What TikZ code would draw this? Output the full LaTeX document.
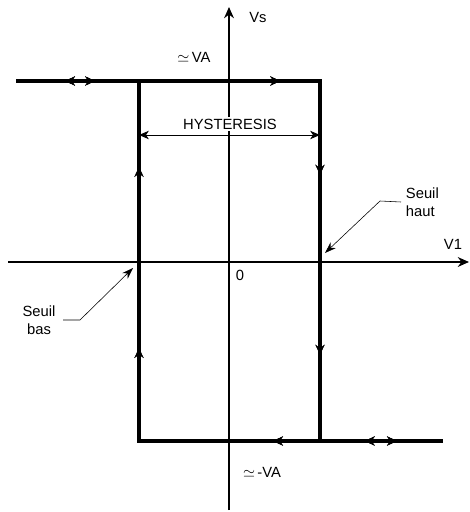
\documentclass[tikz,border=0pt]{standalone}
\usepackage{fontspec}
\setmainfont{Liberation Sans}
\usepackage{amssymb}
\usetikzlibrary{arrows.meta,decorations.markings}

\begin{document}
\begin{tikzpicture}[x=0.025cm,y=-0.025cm,
  every node/.style={font=\fontsize{10.5}{13}\selectfont},
  loop/.style={line width=2.2pt,line cap=rect},
  axis/.style={line width=1.1pt,-{Stealth[length=8pt,width=7pt]}},
  lead/.style={line width=0.4pt,-{Stealth[length=8pt,width=5.5pt]}},
  dim/.style={line width=0.7pt,{Stealth[length=7pt,width=6pt,inset=2pt]}-{Stealth[length=7pt,width=6pt,inset=2pt]}},
  fwd/.style={postaction={decorate},decoration={markings,mark=at position #1 with {\arrow{Stealth[length=7pt,width=6.5pt,inset=2.5pt]}}}},
  bwd/.style={postaction={decorate},decoration={markings,mark=at position #1 with {\arrowreversed{Stealth[length=7pt,width=6.5pt,inset=2.5pt]}}}}]
\useasboundingbox (0,0) rectangle (469,512);

% axes
\coordinate (xa) at (8,262);
\coordinate (xb) at (469,262);
\coordinate (ya) at (229,510);
\coordinate (yb) at (229,7);
\draw[axis] (xa) -- (xb);
\draw[axis] (ya) -- (yb);

% loop corners
\coordinate (tl) at (18,81);
\coordinate (ul) at (139,81);
\coordinate (ur) at (320,81);
\coordinate (ll) at (139,441);
\coordinate (lr) at (320,441);
\coordinate (br) at (441,441);

\draw[loop,bwd=0.156,fwd=0.255,fwd=0.868] (tl) -- (ur);
\draw[loop,fwd=0.26,fwd=0.76] (ur) -- (lr);
\draw[loop,fwd=0.556,fwd=0.252,bwd=0.146] (br) -- (ll);
\draw[loop,fwd=0.258,fwd=0.761] (ll) -- (ul);

% hysteresis
\node[fill=white,inner sep=1pt] (hyst) at (230,124) {HYSTERESIS};
\coordinate (hl) at (139,135);
\coordinate (hr) at (320,135);
\draw[dim] (hl) -- (hr);

% labels
\node (vs) at (258,17) {Vs};
\node (va) at (194,57) {$\simeq$\,VA};
\node (mva) at (262,472) {$\simeq$\,-VA};
\node (zero) at (240,275) {0};
\node (v1) at (453,244) {V1};

\node[align=left,anchor=west] (haut) at (401,202) {Seuil\\haut};
\node[align=center] (bas) at (39,320) {Seuil\\bas};
\coordinate (hautknee) at (380,201);
\coordinate (hautpt) at (325,253);
\coordinate (baspt) at (133,268);
\coordinate (basknee) at (80,320);
\draw[lead] (haut.west) -- (hautknee) -- (hautpt);
\draw[lead] ([xshift=2pt]bas.east) -- (basknee) -- (baspt);
\end{tikzpicture}
\end{document}
